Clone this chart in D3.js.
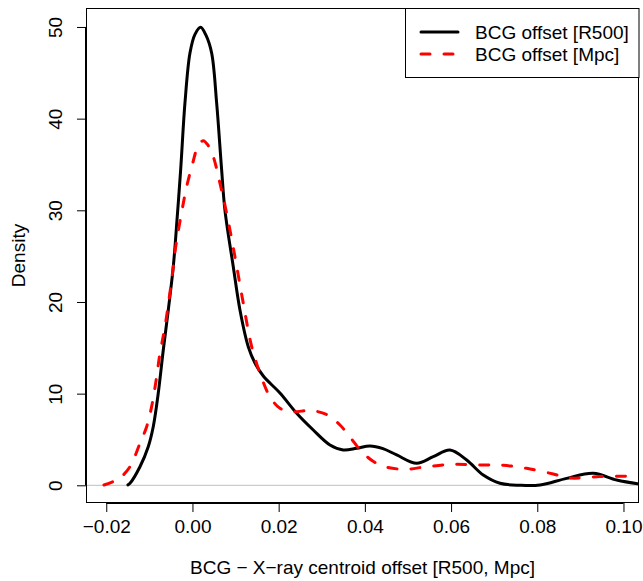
<!DOCTYPE html>
<html><head><meta charset="utf-8">
<script src="https://cdn.jsdelivr.net/npm/d3@7"></script>
<style>body{margin:0;background:#fff}svg{display:block}text{font-family:"Liberation Sans",Arial,sans-serif;fill:#000}</style>
</head><body>
<svg id="c" width="643" height="581"></svg>
<script>
const r500X = [-0.01497,-0.0145,-0.01218,-0.01026,-0.0091,-0.00794,-0.00677,-0.00561,-0.00445,-0.00353,-0.00274,-0.00174,-0.00058,0.00058,0.0019,0.00313,0.00445,0.00561,0.00677,0.00754,0.00947,0.01102,0.01295,0.0145,0.01643,0.0203,0.02418,0.02803,0.0319,0.03499,0.0381,0.04118,0.0442,0.04738,0.05202,0.05587,0.05974,0.06362,0.06747,0.07135,0.07599,0.08063,0.08682,0.09299,0.09842,0.10367];
const r500Y = [0.05,0.22,2.03,4.21,6.39,10.04,14.76,19.13,23.85,29.3,34.4,41.71,47.16,49.2,49.97,49.1,47.16,41.71,34.4,30.0,23.85,19.13,15.12,13.34,11.92,10.07,7.86,6.03,4.4,3.86,4.04,4.29,4.0,3.31,2.4,3.12,3.85,2.76,1.12,0.22,0.0,0.03,0.76,1.31,0.58,0.14];
const mpcX = [-0.02053,-0.01845,-0.01682,-0.0145,-0.01218,-0.01063,-0.0094,-0.00831,-0.00754,-0.00638,-0.00483,-0.00383,-0.00251,-0.00135,0.00005,0.00128,0.00251,0.0036,0.00483,0.00638,0.00777,0.00986,0.01179,0.01374,0.01566,0.01798,0.0203,0.02332,0.02726,0.03114,0.03422,0.03654,0.03963,0.0435,0.04891,0.05434,0.06051,0.06671,0.07211,0.07754,0.08371,0.08759,0.09455,0.10343];
const mpcY = [0.03,0.39,0.8,2.03,4.58,6.39,8.76,11.85,14.4,17.3,22.4,26.2,29.8,32.58,35.13,37.0,37.6,37.1,35.85,32.95,30.04,24.94,19.86,15.12,12.22,9.67,8.4,8.03,8.16,7.72,6.58,5.27,3.49,2.21,1.75,2.03,2.29,2.21,2.18,1.85,1.23,0.8,0.96,1.01];
const xTicks = [-0.02,0.00,0.02,0.04,0.06,0.08,0.10];
const yTicks = [0,10,20,30,40,50];
const legendLabels = ["BCG offset [R500]","BCG offset [Mpc]"];
const xTitle = "BCG \u2212 X\u2212ray centroid offset [R500, Mpc]";
const yTitle = "Density";

const svg = d3.select("#c");
const L=86, R=639, T=8, B=503;
const x = d3.scaleLinear().domain([-0.0247,0.1036]).range([L,R]);
const y = d3.scaleLinear().domain([-1.93,52.07]).range([B,T]);
const FS = 19;

svg.append("defs").append("clipPath").attr("id","clip").append("rect")
  .attr("x",L).attr("y",T).attr("width",R-L).attr("height",B-T);

// baseline at 0
svg.append("line").attr("x1",L).attr("x2",R).attr("y1",y(0)).attr("y2",y(0))
  .attr("stroke","#bebebe").attr("stroke-width",1);

const line = d3.line().x(d=>x(d[0])).y(d=>y(d[1])).curve(d3.curveCatmullRom.alpha(0.5));
const g = svg.append("g").attr("clip-path","url(#clip)");
g.append("path").datum(r500X.map((v,i)=>[v,r500Y[i]])).attr("d",line)
  .attr("fill","none").attr("stroke","#000").attr("stroke-width",3).attr("stroke-linejoin","round").attr("stroke-linecap","round");
g.append("path").datum(mpcX.map((v,i)=>[v,mpcY[i]])).attr("d",line)
  .attr("fill","none").attr("stroke","#ff0000").attr("stroke-width",3).attr("stroke-dasharray","9,14").attr("stroke-linecap","round");

// frame
svg.append("rect").attr("x",L+0.5).attr("y",T+0.5).attr("width",R-L-1).attr("height",B-T-1)
  .attr("fill","none").attr("stroke","#000").attr("stroke-width",1);

// x axis
const xa = svg.append("g").attr("transform",`translate(0,${B})`)
  .call(d3.axisBottom(x).tickValues(xTicks).tickSize(9).tickPadding(4).tickFormat(d3.format(".2f")).tickSizeOuter(0));
xa.select(".domain").attr("d",`M${x(xTicks[0])},0.5H${x(xTicks[xTicks.length-1])}`);
xa.selectAll("text").attr("font-size",FS).attr("font-family","Liberation Sans, Arial, sans-serif").attr("dy","0.9em")
  .text(d=>d3.format(".2f")(d).replace("-","\u2212"));

// y axis
const ya = svg.append("g").attr("transform",`translate(${L},0)`)
  .call(d3.axisLeft(y).tickValues(yTicks).tickSize(9).tickSizeOuter(0));
ya.select(".domain").attr("d",`M-0.5,${y(0)}V${y(50)}`);
ya.selectAll(".tick text").attr("font-size",FS).attr("font-family","Liberation Sans, Arial, sans-serif")
  .attr("x",null).attr("dy",null)
  .attr("transform","translate(-24,0) rotate(-90)").attr("text-anchor","middle");

// titles
svg.append("text").attr("x",(L+R)/2).attr("y",574).attr("text-anchor","middle").attr("font-size",FS).text(xTitle);
svg.append("text").attr("transform",`translate(25,${(T+B)/2}) rotate(-90)`).attr("text-anchor","middle").attr("font-size",FS).text(yTitle);

// legend
const lg = svg.append("g");
lg.append("rect").attr("x",405.5).attr("y",T+0.5).attr("width",R-405.5).attr("height",77-T)
  .attr("fill","#fff").attr("stroke","#000").attr("stroke-width",1);
const rowsY=[32,54];
legendLabels.forEach((t,i)=>{
  const l = lg.append("line").attr("x1",421).attr("x2",458).attr("y1",rowsY[i]).attr("y2",rowsY[i])
    .attr("stroke",i===0?"#000":"#ff0000").attr("stroke-width",3).attr("stroke-linecap","round");
  if(i===1) l.attr("stroke-dasharray","9,14");
  lg.append("text").attr("x",475).attr("y",rowsY[i]+6.5).attr("font-size",FS).text(t);
});
</script>
</body></html>
